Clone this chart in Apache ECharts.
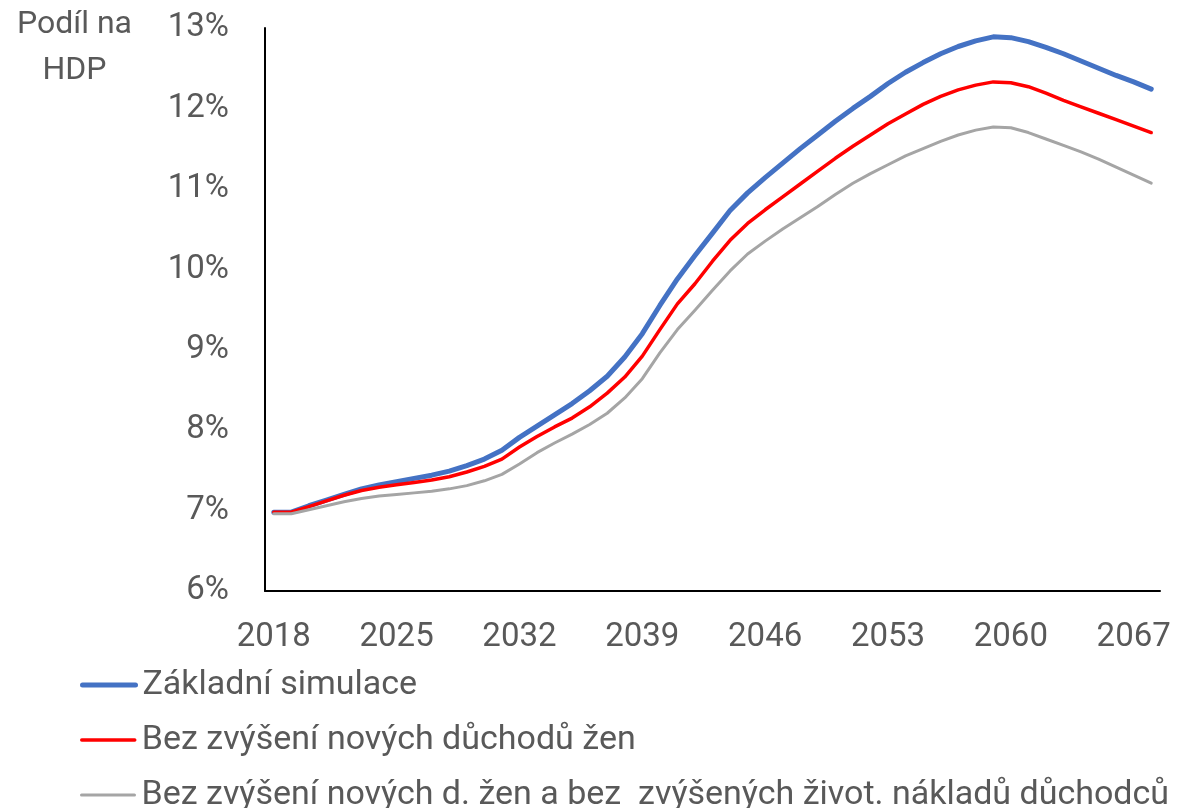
<!DOCTYPE html>
<html>
<head>
<meta charset="utf-8">
<script src="https://cdn.jsdelivr.net/npm/echarts@6/dist/echarts.min.js"></script>
<style>
  html, body { margin: 0; padding: 0; background: #fff; }
  #main { width: 1184px; height: 808px; }
</style>
</head>
<body>
<div id="main"></div>
<script>
var chartDom = document.getElementById('main');
var myChart = echarts.init(chartDom);
var option;

var years = ['2018','2019','2020','2021','2022','2023','2024','2025','2026','2027',
  '2028','2029','2030','2031','2032','2033','2034','2035','2036','2037',
  '2038','2039','2040','2041','2042','2043','2044','2045','2046','2047',
  '2048','2049','2050','2051','2052','2053','2054','2055','2056','2057',
  '2058','2059','2060','2061','2062','2063','2064','2065','2066','2067','2068'];

// podil vydaju na HDP v %
var zakladni = [6.98, 6.98, 7.06, 7.13, 7.20, 7.27, 7.32, 7.36, 7.40, 7.44,
  7.49, 7.56, 7.64, 7.75, 7.91, 8.05, 8.19, 8.33, 8.49, 8.67,
  8.91, 9.20, 9.55, 9.88, 10.17, 10.45, 10.73, 10.95, 11.14, 11.32,
  11.50, 11.67, 11.84, 12.00, 12.15, 12.31, 12.45, 12.57, 12.68, 12.77,
  12.84, 12.89, 12.88, 12.83, 12.76, 12.68, 12.59, 12.50, 12.41, 12.33, 12.24];

var bezZen = [6.98, 6.98, 7.05, 7.12, 7.19, 7.25, 7.29, 7.32, 7.35, 7.38,
  7.42, 7.48, 7.55, 7.64, 7.79, 7.92, 8.04, 8.15, 8.29, 8.46,
  8.66, 8.92, 9.25, 9.57, 9.82, 10.10, 10.36, 10.57, 10.74, 10.90,
  11.06, 11.22, 11.38, 11.53, 11.67, 11.81, 11.93, 12.05, 12.15, 12.23,
  12.29, 12.33, 12.32, 12.27, 12.19, 12.10, 12.02, 11.94, 11.86, 11.78, 11.70];

var bezZenNaklady = [6.96, 6.96, 7.01, 7.06, 7.11, 7.15, 7.18, 7.20, 7.22, 7.24,
  7.27, 7.31, 7.37, 7.45, 7.58, 7.72, 7.84, 7.95, 8.07, 8.21,
  8.40, 8.64, 8.96, 9.25, 9.49, 9.74, 9.98, 10.19, 10.35, 10.50,
  10.64, 10.78, 10.93, 11.07, 11.19, 11.30, 11.41, 11.50, 11.59, 11.67,
  11.73, 11.77, 11.76, 11.70, 11.62, 11.54, 11.46, 11.37, 11.27, 11.17, 11.07];

var seriesNames = ['Základní simulace', 'Bez zvýšení nových důchodů žen',
  'Bez zvýšení nových d. žen a bez  zvýšených život. nákladů důchodců'];
var colors = ['#4472C4', '#FF0000', '#A5A5A5'];
var widths = [5, 3.5, 3];

var txt = '#595959';
var fnt = 'Roboto';

// jedna legenda na radek, aby se nezalamovala do sloupcu
function makeLegend(i, top) {
  return {
    orient: 'vertical',
    left: 80,
    top: top,
    padding: 0,
    itemWidth: 53,
    itemHeight: 14,
    itemGap: 0,
    itemStyle: { opacity: 0 },
    lineStyle: { width: widths[i], cap: 'round' },
    textStyle: { color: txt, fontSize: 34, fontFamily: fnt, lineHeight: 30, padding: [0, 0, 0, 2] },
    data: [seriesNames[i]]
  };
}

option = {
  animation: false,
  textStyle: { fontFamily: fnt },
  grid: { left: 265, right: 24, top: 28, bottom: 217 },
  graphic: [{
    type: 'text',
    left: 17, top: 2,
    style: {
      text: 'Podíl na\nHDP',
      fill: txt,
      font: '32px Roboto',
      textAlign: 'center',
      lineHeight: 46
    }
  }],
  legend: [makeLegend(0, 668), makeLegend(1, 723), makeLegend(2, 778)],
  xAxis: {
    type: 'category',
    data: years,
    boundaryGap: true,
    axisLine: { lineStyle: { color: '#000', width: 2 } },
    axisTick: { show: false },
    axisLabel: { interval: 6, color: txt, fontSize: 33, fontFamily: fnt, margin: 30 }
  },
  yAxis: {
    type: 'value',
    min: 6, max: 13, interval: 1,
    axisLine: { show: true, lineStyle: { color: '#000', width: 2 } },
    axisTick: { show: false },
    splitLine: { show: false },
    axisLabel: { formatter: '{value}%', color: txt, fontSize: 33, fontFamily: fnt, margin: 36 }
  },
  series: [
    {
      name: seriesNames[0], type: 'line', data: zakladni,
      symbol: 'none',
      itemStyle: { color: colors[0] },
      lineStyle: { color: colors[0], width: widths[0], cap: 'round', join: 'round' }
    },
    {
      name: seriesNames[1], type: 'line', data: bezZen,
      symbol: 'none',
      itemStyle: { color: colors[1] },
      lineStyle: { color: colors[1], width: widths[1], cap: 'round', join: 'round' }
    },
    {
      name: seriesNames[2], type: 'line', data: bezZenNaklady,
      symbol: 'none',
      itemStyle: { color: colors[2] },
      lineStyle: { color: colors[2], width: widths[2], cap: 'round', join: 'round' }
    }
  ]
};

option && myChart.setOption(option);
</script>
</body>
</html>
